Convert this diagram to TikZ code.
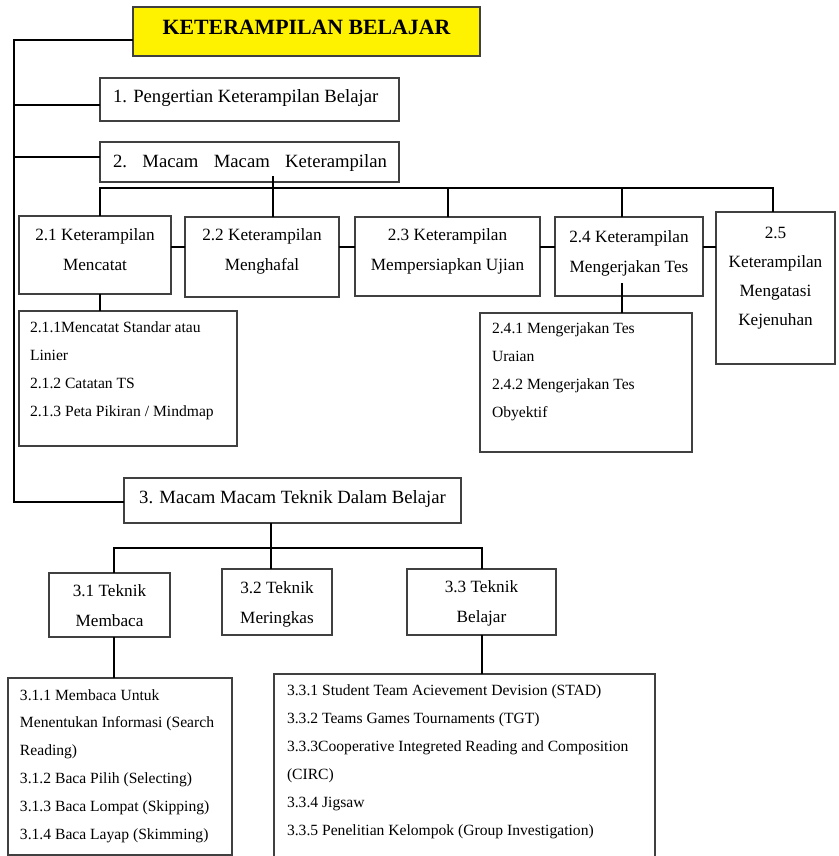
\documentclass[tikz,border=0pt]{standalone}
\usepackage{fontspec}
\setmainfont{Liberation Serif}
\usetikzlibrary{calc}

% type sizes
\newcommand\ftitle{\fontsize{21.8}{26}\selectfont\bfseries}
\newcommand\fbig{\fontsize{18.7}{30}\selectfont}
\newcommand\fmid{\fontsize{17.2}{30}\selectfont}
\newcommand\fsmall{\fontsize{15.6}{28.2}\selectfont}
% strut that fixes where the first baseline sits below the box top
\newcommand\firstline[1]{\rule{0pt}{#1pt}}
% box body of a fixed size: width, height, contents (top aligned)
\newcommand\boxbody[3]{\parbox[c][#2pt][t]{#1pt}{#3}}

\tikzset{
  box/.style={draw=black!75, line width=1.3pt, inner sep=0pt, outer sep=0pt, anchor=north west},
  titlebox/.style={box, fill=yellow},
  link/.style={draw=black, line width=1.8pt}
}

\begin{document}
\begin{tikzpicture}[x=1pt,y=-1pt]
\useasboundingbox (0,0) rectangle (838,856);

% ---- top level ----
\node[titlebox] (title) at (133,7)
  {\boxbody{347}{49}{\ftitle\centering\firstline{28}KETERAMPILAN BELAJAR}};
\node[box] (b1) at (100,78)
  {\boxbody{299}{43}{\fbig\raggedright\leftskip=13pt\firstline{25}1. Pengertian Keterampilan Belajar}};
\node[box] (b2) at (100,142)
  {\boxbody{299}{40}{\fbig\leftskip=13pt\rightskip=12pt\firstline{25}2.\hfill Macam\hfill Macam\hfill Keterampilan}};

% ---- section 2 ----
\node[box] (b21) at (19,216)
  {\boxbody{152}{78}{\fmid\centering\firstline{24}2.1 Keterampilan\\Mencatat}};
\node[box] (b22) at (185,217)
  {\boxbody{154}{80}{\fmid\centering\firstline{23}2.2 Keterampilan\\Menghafal}};
\node[box] (b23) at (355,217)
  {\boxbody{185}{79}{\fmid\centering\firstline{23}2.3 Keterampilan\\Mempersiapkan Ujian}};
\node[box] (b24) at (555,217)
  {\boxbody{148}{79}{\fmid\centering\firstline{25}2.4 Keterampilan\\Mengerjakan Tes}};
\node[box] (b25) at (716,212)
  {\boxbody{119}{152}{\fontsize{17.2}{29}\selectfont\centering\firstline{26}2.5\\Keterampilan\\Mengatasi\\Kejenuhan}};

\node[box] (b211) at (19,311)
  {\boxbody{218}{135}{\fsmall\raggedright\leftskip=11pt\firstline{21}2.1.1Mencatat Standar atau\\Linier\\2.1.2 Catatan TS\\2.1.3 Peta Pikiran / Mindmap}};
\node[box] (b241) at (480,313)
  {\boxbody{212}{139}{\fsmall\raggedright\leftskip=12pt\firstline{20}2.4.1 Mengerjakan Tes\\Uraian\\2.4.2 Mengerjakan Tes\\Obyektif}};

% ---- section 3 ----
\node[box] (b3) at (124,478)
  {\boxbody{337}{45}{\fbig\centering\firstline{25}3. Macam Macam Teknik Dalam Belajar}};

\node[box] (b31) at (49,573)
  {\boxbody{121}{64}{\fmid\centering\firstline{23}3.1 Teknik\\Membaca}};
\node[box] (b32) at (222,569)
  {\boxbody{110}{66}{\fmid\centering\firstline{24}3.2 Teknik\\Meringkas}};
\node[box] (b33) at (407,569)
  {\boxbody{149}{66}{\fmid\centering\firstline{23}3.3 Teknik\\Belajar}};

\node[box] (b311) at (8,678)
  {\boxbody{224}{177}{\fontsize{15.6}{27.8}\selectfont\raggedright\leftskip=12pt\firstline{22}3.1.1 Membaca Untuk\\Menentukan Informasi (Search\\Reading)\\3.1.2 Baca Pilih (Selecting)\\3.1.3 Baca Lompat (Skipping)\\3.1.4 Baca Layap (Skimming)}};
\node[box] (b331) at (274,674)
  {\boxbody{381}{192}{\fontsize{15.6}{28}\selectfont\raggedright\leftskip=13pt\firstline{21}3.3.1 Student Team Acievement Devision (STAD)\\3.3.2 Teams Games Tournaments (TGT)\\3.3.3Cooperative Integreted Reading and Composition\\(CIRC)\\3.3.4 Jigsaw\\3.3.5 Penelitian Kelompok (Group Investigation)}};

% ---- spine on the left ----
\coordinate (spine) at (14,0);
\draw[link] ([yshift=-8.5pt]title.west) -- ([yshift=-8.5pt]title.west -| spine)
            -- ([yshift=-1.5pt]b3.west -| spine) -- ([yshift=-1.5pt]b3.west);
\draw[link] ([yshift=-5.5pt]b1.west) -- ([yshift=-5.5pt]b1.west -| spine);
\draw[link] ([yshift=5pt]b2.west) -- ([yshift=5pt]b2.west -| spine);

% ---- section 2 bus ----
\coordinate (bus2) at (0,188);
\coordinate (d21) at ([xshift=5pt]b21.north);
\coordinate (d22) at ([xshift=11pt]b22.north);
\coordinate (d23) at ([xshift=0.5pt]b23.north);
\coordinate (d24) at ([xshift=-7pt]b24.north);
\coordinate (d25) at ([xshift=-2.5pt]b25.north);
\draw[link] (d21) -- (d21 |- bus2) -- (d25 |- bus2) -- (d25);
\draw[link] (d22) -- ([yshift=6pt]d22 |- b2.south);
\draw[link] (d23) -- (d23 |- bus2);
\draw[link] (d24) -- (d24 |- bus2);

% side links between the section 2 boxes
\coordinate (side2) at ([yshift=8pt]b21.east);
\draw[link] (b21.east |- side2) -- (b22.west |- side2);
\draw[link] (b22.east |- side2) -- (b23.west |- side2);
\draw[link] (b23.east |- side2) -- (b24.west |- side2);
\draw[link] (b24.east |- side2) -- (b25.west |- side2);

% sub lists of section 2
\draw[link] ([xshift=5pt]b21.south) -- ([xshift=5pt]b21.south |- b211.north);
\draw[link] ([xshift=-7pt,yshift=13pt]b24.south) -- ([xshift=-7pt]b24.south |- b241.north);

% ---- section 3 bus ----
\coordinate (bus3) at (0,548);
\coordinate (d31) at ([xshift=4.5pt]b31.north);
\coordinate (d32) at ([xshift=-21.5pt]b3.south);
\coordinate (d33) at ([xshift=0.5pt]b33.north);
\draw[link] (d31) -- (d31 |- bus3) -- (d33 |- bus3) -- (d33);
\draw[link] (d32) -- (d32 |- b32.north);

% sub lists of section 3
\draw[link] ([xshift=4.5pt]b31.south) -- ([xshift=4.5pt]b31.south |- b311.north);
\draw[link] ([xshift=0.5pt]b33.south) -- ([xshift=0.5pt]b33.south |- b331.north);
\end{tikzpicture}
\end{document}
